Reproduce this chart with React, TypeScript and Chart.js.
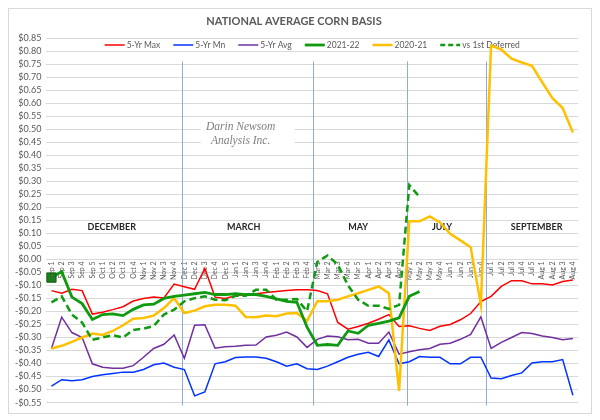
import React, { useEffect, useRef } from "react";
import { Chart, registerables } from "chart.js";
Chart.register(...registerables);

const categories = [
  "Sep 1", "Sep 2", "Sep 3", "Sep 4", "Sep 5",
  "Oct 1", "Oct 2", "Oct 3", "Oct 4",
  "Nov 1", "Nov 2", "Nov 3", "Nov 4",
  "Dec 1", "Dec 2", "Dec 3", "Dec 4", "Dec 5",
  "Jan 1", "Jan 2", "Jan 3", "Jan 4",
  "Feb 1", "Feb 2", "Feb 3", "Feb 4",
  "Mar 1", "Mar 2", "Mar 3", "Mar 4", "Mar 5",
  "Apr 1", "Apr 2", "Apr 3", "Apr 4",
  "May 1", "May 2", "May 3", "May 4",
  "Jun 1", "Jun 2", "Jun 3", "Jun 4",
  "Jul 1", "Jul 2", "Jul 3", "Jul 4", "Jul 5",
  "Aug 1", "Aug 2", "Aug 3", "Aug 4",
];

const max5Yr = [-0.12, -0.13, -0.115, -0.12, -0.21, -0.203, -0.193, -0.182, -0.16, -0.15, -0.145, -0.148, -0.095, -0.105, -0.115, -0.035, -0.145, -0.15, -0.14, -0.135, -0.132, -0.127, -0.123, -0.12, -0.117, -0.117, -0.12, -0.132, -0.242, -0.268, -0.258, -0.245, -0.23, -0.212, -0.258, -0.255, -0.265, -0.273, -0.257, -0.25, -0.232, -0.208, -0.162, -0.142, -0.104, -0.082, -0.082, -0.094, -0.094, -0.098, -0.085, -0.079];

const min5Yr = [-0.487, -0.462, -0.466, -0.462, -0.45, -0.443, -0.438, -0.433, -0.433, -0.423, -0.405, -0.398, -0.414, -0.423, -0.524, -0.509, -0.401, -0.393, -0.377, -0.375, -0.375, -0.38, -0.393, -0.41, -0.401, -0.42, -0.423, -0.41, -0.393, -0.376, -0.364, -0.357, -0.373, -0.309, -0.401, -0.393, -0.373, -0.376, -0.376, -0.401, -0.401, -0.376, -0.376, -0.456, -0.458, -0.446, -0.436, -0.398, -0.393, -0.393, -0.385, -0.522];

const avg5Yr = [-0.342, -0.222, -0.281, -0.3, -0.401, -0.414, -0.418, -0.418, -0.408, -0.376, -0.342, -0.326, -0.29, -0.38, -0.253, -0.251, -0.341, -0.336, -0.334, -0.33, -0.329, -0.298, -0.291, -0.279, -0.298, -0.338, -0.307, -0.294, -0.297, -0.309, -0.307, -0.322, -0.322, -0.279, -0.364, -0.355, -0.347, -0.342, -0.326, -0.322, -0.307, -0.288, -0.221, -0.342, -0.319, -0.3, -0.281, -0.285, -0.294, -0.3, -0.309, -0.304];

const season2122 = [-0.07, -0.047, -0.145, -0.17, -0.231, -0.212, -0.209, -0.216, -0.192, -0.175, -0.172, -0.15, -0.142, -0.137, -0.132, -0.127, -0.135, -0.135, -0.132, -0.135, -0.135, -0.142, -0.152, -0.161, -0.165, -0.26, -0.33, -0.327, -0.33, -0.275, -0.284, -0.253, -0.246, -0.237, -0.225, -0.142, -0.123];

const season2021 = [-0.342, -0.332, -0.317, -0.3, -0.285, -0.29, -0.275, -0.253, -0.228, -0.225, -0.216, -0.187, -0.149, -0.206, -0.197, -0.18, -0.174, -0.174, -0.178, -0.221, -0.222, -0.216, -0.218, -0.208, -0.206, -0.237, -0.161, -0.161, -0.155, -0.142, -0.13, -0.117, -0.104, -0.13, -0.505, 0.146, 0.146, 0.165, 0.142, 0.098, 0.073, 0.047, -0.174, 0.821, 0.806, 0.771, 0.756, 0.743, 0.68, 0.619, 0.581, 0.487];

const vsDeferred = [-0.165, -0.142, -0.212, -0.243, -0.309, -0.3, -0.291, -0.3, -0.271, -0.266, -0.256, -0.212, -0.193, -0.161, -0.149, -0.142, -0.155, -0.157, -0.14, -0.14, -0.117, -0.117, -0.155, -0.155, -0.152, -0.199, -0.01, 0.015, -0.02, -0.1, -0.155, -0.178, -0.178, -0.19, -0.175, 0.285, 0.24];

const contractNames = ["DECEMBER", "MARCH", "MAY", "JULY", "SEPTEMBER"];
const contractCenters = [5.9, 18.8, 30.0, 38.2, 47.45];
const contractLabelValue = 0.125;
const dividerPositions = [12.75, 25.6, 34.75, 42.55];
const watermarkLines = ["Darin Newsom", "Analysis Inc."];

const yMin = -0.55;
const yMax = 0.85;
const yStep = 0.05;

const FONT = "Lato, 'Open Sans', sans-serif";
const GRAY = "#595959";

function fmtMoney(v: number) {
  if (Math.abs(v) < 1e-9) return "$0.00";
  const a = Math.abs(v).toFixed(2);
  return (v < 0 ? "-$" : "$") + a;
}

export default function App() {
  const ref = useRef<HTMLCanvasElement>(null);

  useEffect(() => {
    const canvas = ref.current;
    if (!canvas) return;

    const overlay = {
      id: "overlay",
      beforeDatasetsDraw(chart: any) {
        const { ctx, chartArea, scales } = chart;
        const x = scales.x;
        const y = scales.y;
        ctx.save();
        // watermark
        const bx0 = x.getPixelForValue(14.6);
        const bx1 = x.getPixelForValue(23.8);
        const by0 = y.getPixelForValue(0.545);
        const by1 = y.getPixelForValue(0.42);
        ctx.fillStyle = "#ffffff";
        ctx.fillRect(bx0, by0, bx1 - bx0, by1 - by0);
        ctx.fillStyle = "#7f7f7f";
        ctx.font = "italic 11.5px 'Liberation Serif', 'DejaVu Serif', serif";
        ctx.textAlign = "center";
        ctx.textBaseline = "middle";
        const cx = x.getPixelForValue(18.5);
        ctx.fillText(watermarkLines[0], cx, y.getPixelForValue(0.51));
        ctx.fillText(watermarkLines[1], cx, y.getPixelForValue(0.453));

        // dividers
        ctx.strokeStyle = "#8faadc";
        ctx.lineWidth = 1;
        dividerPositions.forEach((p) => {
          const px = Math.round(x.getPixelForValue(p)) + 0.5;
          ctx.beginPath();
          ctx.moveTo(px, y.getPixelForValue(0.76));
          ctx.lineTo(px, chartArea.bottom + 3);
          ctx.stroke();
        });

        // contract labels
        ctx.fillStyle = "#262626";
        ctx.font = "bold 9px " + FONT;
        contractNames.forEach((n, i) => {
          ctx.fillText(n, x.getPixelForValue(contractCenters[i]), y.getPixelForValue(contractLabelValue));
        });

        // legend (series names from the datasets)
        const ds = chart.data.datasets;
        ctx.font = "8.5px " + FONT;
        ctx.textAlign = "left";
        const lineW = 20;
        const gapText = 2;
        const gapItem = 13;
        const widths = ds.map((d: any) => lineW + gapText + ctx.measureText(d.label).width);
        const total = widths.reduce((a: number, b: number) => a + b, 0) + gapItem * (ds.length - 1);
        let lx = (chartArea.left + chartArea.right) / 2 - total / 2;
        const ly = chartArea.top + 7;
        ds.forEach((d: any, i: number) => {
          ctx.strokeStyle = d.borderColor;
          ctx.lineWidth = d.borderWidth;
          ctx.setLineDash(d.borderDash ? [5, 3] : []);
          ctx.beginPath();
          ctx.moveTo(lx, ly);
          ctx.lineTo(lx + lineW, ly);
          ctx.stroke();
          ctx.setLineDash([]);
          ctx.fillStyle = GRAY;
          ctx.fillText(d.label, lx + lineW + gapText, ly);
          lx += widths[i] + gapItem;
        });
        ctx.restore();
      },
    };

    const chart = new Chart(canvas, {
      type: "line",
      data: {
        labels: categories,
        datasets: [
          { label: "5-Yr Max", data: max5Yr, borderColor: "#ff0000", backgroundColor: "#ff0000", borderWidth: 1.5, pointRadius: 0, order: 6 },
          { label: "5-Yr Mn", data: min5Yr, borderColor: "#0033ff", backgroundColor: "#0033ff", borderWidth: 1.5, pointRadius: 0, order: 5 },
          { label: "5-Yr Avg", data: avg5Yr, borderColor: "#7030a0", backgroundColor: "#7030a0", borderWidth: 1.5, pointRadius: 0, order: 4 },
          {
            label: "2021-22", data: season2122, borderColor: "#109a10", backgroundColor: "#1e7b1e", borderWidth: 2.8,
            pointRadius: (c: any) => (c.dataIndex === 0 ? 6.5 : 0), pointStyle: "rect", pointBorderColor: "#0d5e0d", pointBorderWidth: 1, order: 2,
          },
          { label: "2020-21", data: season2021, borderColor: "#ffc000", backgroundColor: "#ffc000", borderWidth: 2.5, pointRadius: 0, order: 3 },
          { label: "vs 1st Deferred", data: vsDeferred, borderColor: "#109a10", backgroundColor: "#109a10", borderWidth: 2.5, borderDash: [7, 4], pointRadius: 0, order: 1 },
        ],
      },
      options: {
        responsive: true,
        maintainAspectRatio: false,
        animation: false,
        layout: { padding: { left: 1, right: 13, top: 0, bottom: 0 } },
        plugins: {
          title: {
            display: true,
            text: "NATIONAL AVERAGE CORN BASIS",
            color: GRAY,
            font: { family: FONT, size: 11, weight: "bold" },
            padding: { top: 6, bottom: 9.8 },
          },
          legend: { display: false },
          tooltip: { enabled: false },
        },
        scales: {
          x: {
            type: "category",
            position: { y: 0 } as any,
            offset: true,
            grid: { display: false, drawTicks: false },
            border: { display: false },
            ticks: {
              autoSkip: false,
              minRotation: 90,
              maxRotation: 90,
              padding: 2,
              color: GRAY,
              font: { family: FONT, size: 7 },
            },
          },
          y: {
            min: yMin,
            max: yMax,
            grid: { color: "#d9d9d9", lineWidth: 1, drawTicks: false },
            border: { display: false },
            ticks: {
              stepSize: yStep,
              autoSkip: false,
              padding: 5,
              color: GRAY,
              font: { family: FONT, size: 9 },
              callback: (v: any) => fmtMoney(Number(v)),
            },
          },
        },
      },
      plugins: [overlay],
    } as any);

    return () => chart.destroy();
  }, []);

  return (
    <div style={{ width: 582, height: 404, border: "1px solid #d9d9d9", position: "relative", background: "#fff" }}>
      <canvas ref={ref} />
    </div>
  );
}
